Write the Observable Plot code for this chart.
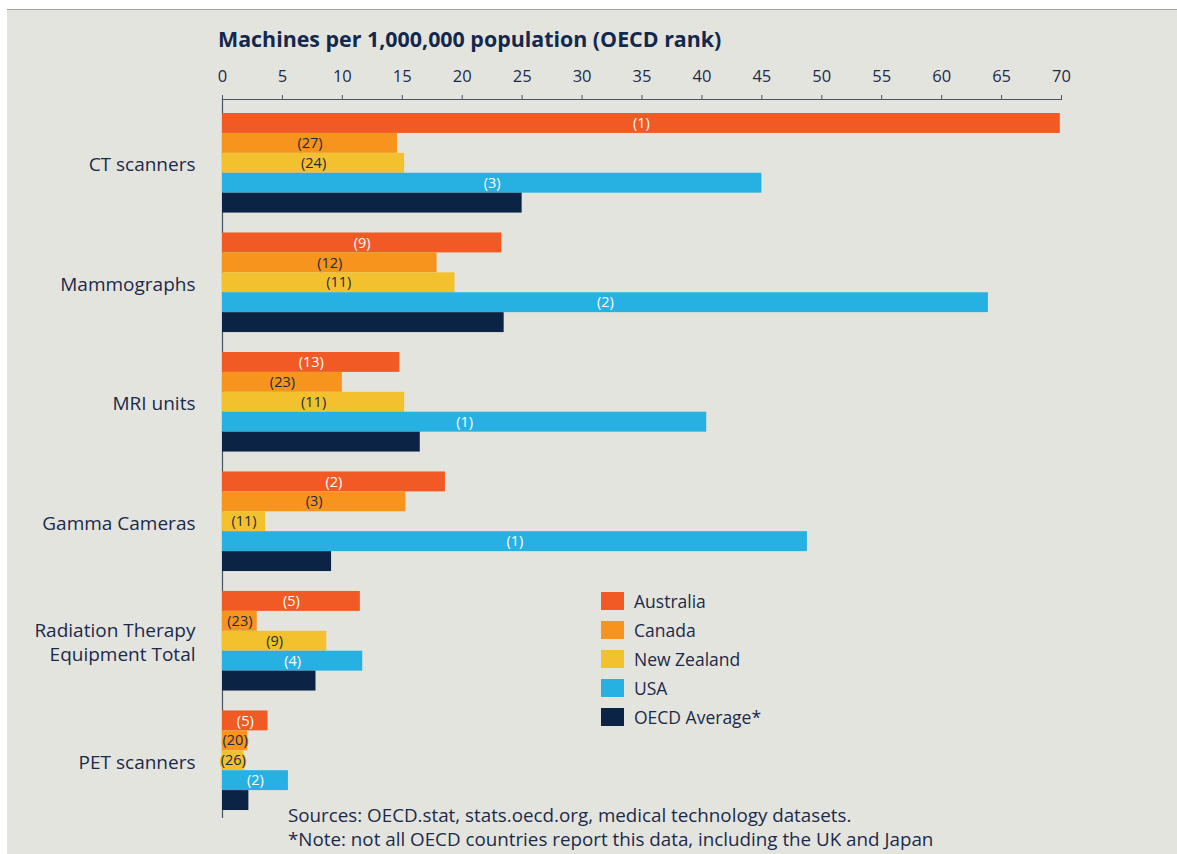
<!DOCTYPE html>
<html>
<head>
<meta charset="utf-8">
<script src="https://cdn.jsdelivr.net/npm/d3@7"></script>
<script src="https://cdn.jsdelivr.net/npm/@observablehq/plot@0.6"></script>
<style>
  html, body { margin: 0; padding: 0; background: #ffffff; }
  #wrap { position: relative; width: 1177px; height: 854px; overflow: hidden; font-family: "Open Sans", "Noto Sans", sans-serif; color: #1b2a4a; }
  #panel { position: absolute; left: 7px; top: 9px; right: 0; bottom: 0; background: #e4e4df; border-top: 1px solid #a3a39b; }
  #title { position: absolute; left: 218px; top: 24px; font-size: 21.4px; font-weight: 700; color: #14284b; white-space: nowrap; }
  #chart { position: absolute; left: 0; top: 0; }
  #legend { position: absolute; left: 601px; top: 586px; }
  .row { display: flex; align-items: center; height: 29px; font-size: 17.5px; }
  .sw { width: 23px; height: 18px; margin-right: 10px; }
  #caption { position: absolute; left: 288px; top: 803px; font-size: 18.8px; line-height: 24px; white-space: nowrap; }
</style>
</head>
<body>
<div id="wrap">
  <div id="panel"></div>
  <div id="chart"></div>
  <div id="title"></div>
  <div id="legend"></div>
  <div id="caption"></div>
</div>
<script>
const categories = ["CT scanners", "Mammographs", "MRI units", "Gamma Cameras", "Radiation Therapy\nEquipment Total", "PET scanners"];
const series = ["Australia", "Canada", "New Zealand", "USA", "OECD Average*"];
const colors = ["#f15a24", "#f7941d", "#f3c12e", "#27b0e2", "#0b2446"];

const australia  = [69.9, 23.3, 14.8, 18.6, 11.5, 3.8];
const canada     = [14.6, 17.9, 10.0, 15.3, 2.9, 2.1];
const newZealand = [15.2, 19.4, 15.2, 3.6, 8.7, 1.8];
const usa        = [45.0, 63.9, 40.4, 48.8, 11.7, 5.5];
const oecd       = [25.0, 23.5, 16.5, 9.1, 7.8, 2.2];

const australiaRank  = [1, 9, 13, 2, 5, 5];
const canadaRank     = [27, 12, 23, 3, 23, 20];
const newZealandRank = [24, 11, 11, 11, 9, 26];
const usaRank        = [3, 2, 1, 1, 4, 2];

const xTicks = [0, 5, 10, 15, 20, 25, 30, 35, 40, 45, 50, 55, 60, 65, 70];

const titleText = "Machines per 1,000,000 population (OECD rank)";
const captionLines = [
  "Sources: OECD.stat, stats.oecd.org, medical technology datasets.",
  "*Note: not all OECD countries report this data, including the UK and Japan"
];

// Build table
const valuesBySeries = [australia, canada, newZealand, usa, oecd];
const ranksBySeries = [australiaRank, canadaRank, newZealandRank, usaRank, null];
const rows = [];
categories.forEach((c, i) => {
  series.forEach((s, j) => {
    rows.push({
      category: c,
      series: s,
      key: c + "|" + s,
      value: valuesBySeries[j][i],
      rank: ranksBySeries[j] ? ranksBySeries[j][i] : null
    });
  });
});

// y band domain: 5 bars per category plus a spacer slot between groups
const yDomain = [];
categories.forEach((c, i) => {
  series.forEach(s => yDomain.push(c + "|" + s));
  if (i < categories.length - 1) yDomain.push(c + "|gap");
});
const groupTicks = categories.map(c => c + "|" + series[2]);

const navy = "#1b2a4a";
const lightLabels = rows.filter(d => d.rank != null && (d.series === "Australia" || d.series === "USA"));
const darkLabels = rows.filter(d => d.rank != null && (d.series === "Canada" || d.series === "New Zealand"));

const chart = Plot.plot({
  width: 1177,
  height: 854,
  marginLeft: 222,
  marginRight: 116,
  marginTop: 99,
  marginBottom: 36,
  style: { background: "transparent", fontFamily: "Open Sans, Noto Sans, sans-serif", color: navy },
  x: { domain: [0, 70] },
  y: { domain: yDomain, paddingInner: 0, paddingOuter: 0.552, align: 0.637 },
  color: { domain: series, range: colors },
  marks: [
    Plot.ruleX([0], { stroke: "#4a5566", strokeWidth: 1.2 }),
    Plot.frame({ anchor: "top", stroke: "#4a5566", strokeWidth: 1.2 }),
    Plot.axisX({ anchor: "top", ticks: xTicks, tickSize: 5, tickPadding: 13, fontSize: 16.5, stroke: "#4a5566", fill: navy, label: null }),
    Plot.axisY({ ticks: groupTicks, tickSize: 0, tickPadding: 27, fontSize: 19, lineHeight: 1.3, fill: navy, label: null,
      tickFormat: k => k.split("|")[0] }),
    Plot.barX(rows, { x: "value", y: "key", fill: "series" }),
    Plot.text(darkLabels, { x: d => d.value / 2, y: "key", text: d => "(" + d.rank + ")", fill: navy, stroke: "series", strokeWidth: 2.5, strokeLinejoin: "miter", fontSize: 14.5 }),
    Plot.text(lightLabels, { x: d => d.value / 2, y: "key", text: d => "(" + d.rank + ")", fill: "#ffffff", fontSize: 14.5 })
  ]
});
document.getElementById("chart").appendChild(chart);

document.getElementById("title").textContent = titleText;

const legend = document.getElementById("legend");
series.forEach((s, i) => {
  const row = document.createElement("div");
  row.className = "row";
  const sw = document.createElement("div");
  sw.className = "sw";
  sw.style.background = colors[i];
  const lab = document.createElement("span");
  lab.textContent = s;
  row.appendChild(sw);
  row.appendChild(lab);
  legend.appendChild(row);
});

const cap = document.getElementById("caption");
captionLines.forEach(t => {
  const d = document.createElement("div");
  d.textContent = t;
  cap.appendChild(d);
});
</script>
</body>
</html>
